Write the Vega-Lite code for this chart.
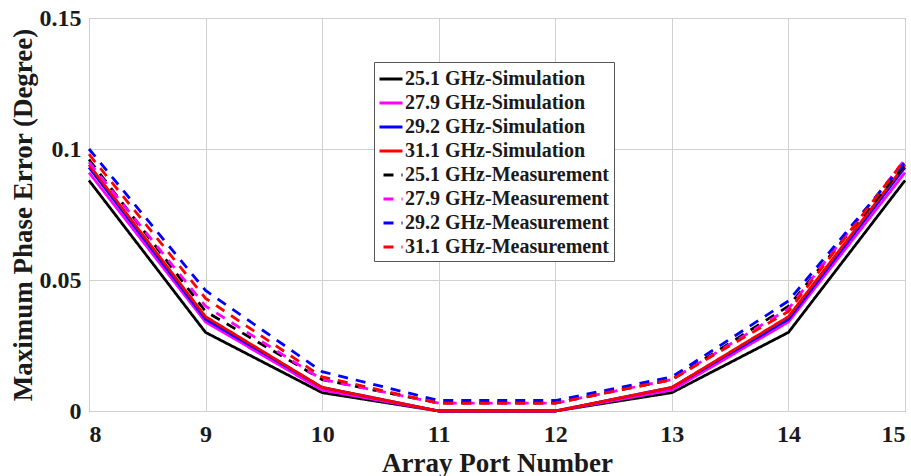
{
  "$schema": "https://vega.github.io/schema/vega-lite/v6.json",
  "width": 816,
  "height": 393,
  "autosize": {"type": "none"},
  "padding": {"left": 89, "top": 18, "right": 6, "bottom": 65},
  "background": "white",
  "config": {
    "font": "Liberation Serif",
    "view": {"stroke": "#888888", "strokeWidth": 1},
    "axis": {
      "labelFont": "Liberation Serif",
      "titleFont": "Liberation Serif",
      "labelFontWeight": "bold",
      "titleFontWeight": "bold",
      "labelFontSize": 24,
      "titleFontSize": 27,
      "labelColor": "#1a1a1a",
      "titleColor": "#1a1a1a",
      "gridColor": "#d0d0d0",
      "gridWidth": 1,
      "domain": false,
      "tickSize": 0
    }
  },
  "data": {
    "values": [
      {"port": 8, "err": 0.088, "series": "25.1 GHz-Simulation"},
      {"port": 9, "err": 0.030, "series": "25.1 GHz-Simulation"},
      {"port": 10, "err": 0.007, "series": "25.1 GHz-Simulation"},
      {"port": 11, "err": 0.0, "series": "25.1 GHz-Simulation"},
      {"port": 12, "err": 0.0, "series": "25.1 GHz-Simulation"},
      {"port": 13, "err": 0.007, "series": "25.1 GHz-Simulation"},
      {"port": 14, "err": 0.030, "series": "25.1 GHz-Simulation"},
      {"port": 15, "err": 0.088, "series": "25.1 GHz-Simulation"},
      {"port": 8, "err": 0.091, "series": "27.9 GHz-Simulation"},
      {"port": 9, "err": 0.034, "series": "27.9 GHz-Simulation"},
      {"port": 10, "err": 0.008, "series": "27.9 GHz-Simulation"},
      {"port": 11, "err": 0.0, "series": "27.9 GHz-Simulation"},
      {"port": 12, "err": 0.0, "series": "27.9 GHz-Simulation"},
      {"port": 13, "err": 0.008, "series": "27.9 GHz-Simulation"},
      {"port": 14, "err": 0.034, "series": "27.9 GHz-Simulation"},
      {"port": 15, "err": 0.091, "series": "27.9 GHz-Simulation"},
      {"port": 8, "err": 0.093, "series": "29.2 GHz-Simulation"},
      {"port": 9, "err": 0.035, "series": "29.2 GHz-Simulation"},
      {"port": 10, "err": 0.009, "series": "29.2 GHz-Simulation"},
      {"port": 11, "err": 0.0, "series": "29.2 GHz-Simulation"},
      {"port": 12, "err": 0.0, "series": "29.2 GHz-Simulation"},
      {"port": 13, "err": 0.009, "series": "29.2 GHz-Simulation"},
      {"port": 14, "err": 0.035, "series": "29.2 GHz-Simulation"},
      {"port": 15, "err": 0.093, "series": "29.2 GHz-Simulation"},
      {"port": 8, "err": 0.094, "series": "31.1 GHz-Simulation"},
      {"port": 9, "err": 0.036, "series": "31.1 GHz-Simulation"},
      {"port": 10, "err": 0.009, "series": "31.1 GHz-Simulation"},
      {"port": 11, "err": 0.0, "series": "31.1 GHz-Simulation"},
      {"port": 12, "err": 0.0, "series": "31.1 GHz-Simulation"},
      {"port": 13, "err": 0.009, "series": "31.1 GHz-Simulation"},
      {"port": 14, "err": 0.036, "series": "31.1 GHz-Simulation"},
      {"port": 15, "err": 0.094, "series": "31.1 GHz-Simulation"},
      {"port": 8, "err": 0.096, "series": "25.1 GHz-Measurement"},
      {"port": 9, "err": 0.038, "series": "25.1 GHz-Measurement"},
      {"port": 10, "err": 0.012, "series": "25.1 GHz-Measurement"},
      {"port": 11, "err": 0.003, "series": "25.1 GHz-Measurement"},
      {"port": 12, "err": 0.003, "series": "25.1 GHz-Measurement"},
      {"port": 13, "err": 0.012, "series": "25.1 GHz-Measurement"},
      {"port": 14, "err": 0.040, "series": "25.1 GHz-Measurement"},
      {"port": 15, "err": 0.094, "series": "25.1 GHz-Measurement"},
      {"port": 8, "err": 0.095, "series": "27.9 GHz-Measurement"},
      {"port": 9, "err": 0.040, "series": "27.9 GHz-Measurement"},
      {"port": 10, "err": 0.012, "series": "27.9 GHz-Measurement"},
      {"port": 11, "err": 0.003, "series": "27.9 GHz-Measurement"},
      {"port": 12, "err": 0.003, "series": "27.9 GHz-Measurement"},
      {"port": 13, "err": 0.012, "series": "27.9 GHz-Measurement"},
      {"port": 14, "err": 0.039, "series": "27.9 GHz-Measurement"},
      {"port": 15, "err": 0.096, "series": "27.9 GHz-Measurement"},
      {"port": 8, "err": 0.100, "series": "29.2 GHz-Measurement"},
      {"port": 9, "err": 0.046, "series": "29.2 GHz-Measurement"},
      {"port": 10, "err": 0.015, "series": "29.2 GHz-Measurement"},
      {"port": 11, "err": 0.004, "series": "29.2 GHz-Measurement"},
      {"port": 12, "err": 0.004, "series": "29.2 GHz-Measurement"},
      {"port": 13, "err": 0.013, "series": "29.2 GHz-Measurement"},
      {"port": 14, "err": 0.042, "series": "29.2 GHz-Measurement"},
      {"port": 15, "err": 0.095, "series": "29.2 GHz-Measurement"},
      {"port": 8, "err": 0.098, "series": "31.1 GHz-Measurement"},
      {"port": 9, "err": 0.043, "series": "31.1 GHz-Measurement"},
      {"port": 10, "err": 0.013, "series": "31.1 GHz-Measurement"},
      {"port": 11, "err": 0.003, "series": "31.1 GHz-Measurement"},
      {"port": 12, "err": 0.003, "series": "31.1 GHz-Measurement"},
      {"port": 13, "err": 0.012, "series": "31.1 GHz-Measurement"},
      {"port": 14, "err": 0.038, "series": "31.1 GHz-Measurement"},
      {"port": 15, "err": 0.096, "series": "31.1 GHz-Measurement"}
    ]
  },
  "mark": {"type": "line", "strokeWidth": 2.8, "clip": false},
  "encoding": {
    "x": {
      "field": "port", "type": "quantitative",
      "scale": {"domain": [8, 15], "nice": false, "zero": false},
      "axis": {"title": "Array Port Number", "values": [8, 9, 10, 11, 12, 13, 14, 15], "format": "d", "titlePadding": 4, "labelPadding": 11}
    },
    "y": {
      "field": "err", "type": "quantitative",
      "scale": {"domain": [0, 0.15], "nice": false},
      "axis": {"title": "Maximum Phase Error (Degree)", "values": [0, 0.05, 0.1, 0.15], "format": ".2~f", "titlePadding": 2, "labelPadding": 8}
    },
    "color": {
      "field": "series", "type": "nominal",
      "sort": ["25.1 GHz-Simulation", "27.9 GHz-Simulation", "29.2 GHz-Simulation", "31.1 GHz-Simulation", "25.1 GHz-Measurement", "27.9 GHz-Measurement", "29.2 GHz-Measurement", "31.1 GHz-Measurement"],
      "scale": {
        "domain": ["25.1 GHz-Simulation", "27.9 GHz-Simulation", "29.2 GHz-Simulation", "31.1 GHz-Simulation", "25.1 GHz-Measurement", "27.9 GHz-Measurement", "29.2 GHz-Measurement", "31.1 GHz-Measurement"],
        "range": ["#000000", "#ff00ff", "#0000ff", "#ff0000", "#000000", "#ff00ff", "#0000ff", "#ff0000"]
      },
      "legend": {
        "title": null,
        "orient": "none",
        "legendX": 285,
        "legendY": 44,
        "labelFont": "Liberation Serif",
        "labelFontWeight": "bold",
        "labelFontSize": 20,
        "labelColor": "#1a1a1a",
        "labelLimit": 400,
        "symbolType": "stroke",
        "symbolSize": 529,
        "symbolStrokeWidth": 3,
        "symbolDashOffset": 14,
        "rowPadding": 1,
        "labelOffset": 1,
        "padding": 4,
        "strokeColor": "#555555",
        "fillColor": "white"
      }
    },
    "strokeDash": {
      "field": "series", "type": "nominal",
      "scale": {
        "domain": ["25.1 GHz-Simulation", "27.9 GHz-Simulation", "29.2 GHz-Simulation", "31.1 GHz-Simulation", "25.1 GHz-Measurement", "27.9 GHz-Measurement", "29.2 GHz-Measurement", "31.1 GHz-Measurement"],
        "range": [[1, 0], [1, 0], [1, 0], [1, 0], [10, 8], [10, 8], [10, 8], [10, 8]]
      },
      "legend": null
    }
  }
}
